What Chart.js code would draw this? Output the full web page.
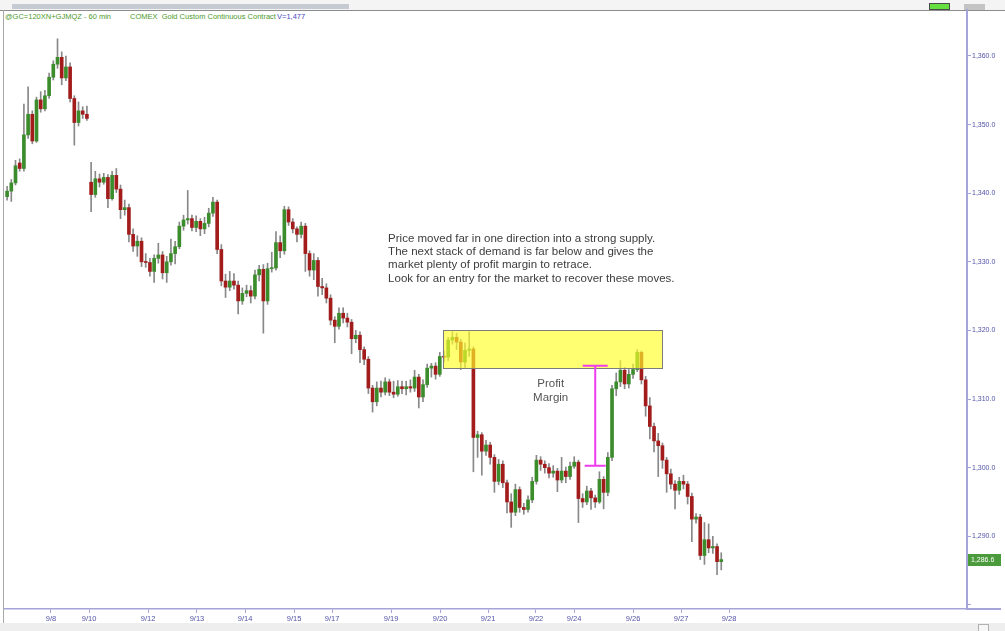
<!DOCTYPE html>
<html>
<head>
<meta charset="utf-8">
<script src="https://cdn.jsdelivr.net/npm/chart.js@4.4.1/dist/chart.umd.min.js"></script>
<style>
  body { margin: 0; background: #fff; font-family: "Liberation Sans", Arial, sans-serif; }
  #wrap { position: relative; width: 1005px; height: 631px; overflow: hidden; background: #fff; }
  .abs { position: absolute; }
  #topstrip { left: 0; top: 0; width: 1005px; height: 10px; background: #f4f4f4; border-bottom: 1px solid #8c8c8c; }
  #scroll { left: 12px; top: 4px; width: 337px; height: 5px; background: #c6cad3; }
  #greenblk { left: 929px; top: 3px; width: 19px; height: 5px; background: #66e040; border: 1px solid #4a4a4a; }
  #greyblk { left: 964px; top: 4px; width: 21px; height: 6px; background: #c4c4c4; }
  #leftline { left: 3px; top: 10px; width: 1px; height: 613px; background: #a8a8a8; }
  #botstrip { left: 0; top: 623px; width: 1005px; height: 8px; background: #eeeeee; }
  #botbox { left: 978px; top: 624px; width: 9px; height: 7px; border: 1px solid #b0b0b0; background: #f6f6f6; }
  #axisext { left: 967px; top: 608px; width: 34px; height: 2px; background: #a4a4d8; }
  .hdr { top: 13px; font-size: 7.5px; line-height: 8px; white-space: pre; }
  .g { color: #4d9a2c; }
  .b { color: #4a4ac0; }
  #chart { position: absolute; left: 0; top: 0; }
</style>
</head>
<body>
<div id="wrap">
  <div id="topstrip" class="abs"></div>
  <div id="scroll" class="abs"></div>
  <div id="greenblk" class="abs"></div>
  <div id="greyblk" class="abs"></div>
  <div id="leftline" class="abs"></div>
  <div id="botstrip" class="abs"></div>
  <div id="botbox" class="abs"></div>
  <div id="axisext" class="abs"></div>
  <div class="abs hdr g" style="left:5px">@GC=120XN+GJMQZ - 60 min</div>
  <div class="abs hdr g" style="left:130px">COMEX  Gold Custom Continuous Contract</div>
  <div class="abs hdr b" style="left:277px">V=1,477</div>
  <canvas id="chart" width="1005" height="631"></canvas>
</div>
<script>
// 2-hour candles, 9/7 - 9/28
const opens = [
  1339.5, 1340.3, 1341.5, 1344.4, 1343.6, 1348.5, 1351.5, 1347.6, 1353.6, 1352.3,
  1354.2, 1356.9, 1358.8, 1359.8, 1356.8, 1358.4, 1353.8, 1350.3, 1352.0, 1351.5,
  1341.6, 1339.8, 1342.1, 1341.6, 1342.3, 1339.2, 1342.6, 1340.6, 1337.6, 1337.9,
  1334.0, 1332.3, 1333.0, 1330.0, 1329.9, 1328.6, 1330.5, 1331.0, 1328.4, 1330.0,
  1331.2, 1332.2, 1335.2, 1336.1, 1336.3, 1335.0, 1335.9, 1334.8, 1335.6, 1337.1,
  1338.7, 1331.8, 1327.2, 1326.3, 1327.2, 1326.6, 1324.3, 1325.4, 1325.8, 1325.0,
  1328.1, 1328.9, 1324.3, 1329.0, 1329.1, 1332.8, 1331.6, 1337.6, 1335.8, 1334.8,
  1334.0, 1335.2, 1331.2, 1328.8, 1330.2, 1326.4, 1326.2, 1324.7, 1321.5, 1320.6,
  1322.5, 1321.8, 1321.2, 1318.8, 1319.3, 1317.2, 1315.8, 1311.6, 1309.6, 1311.6,
  1311.0, 1312.5, 1311.0, 1310.7, 1311.8, 1311.5, 1311.8, 1311.6, 1313.2, 1310.3,
  1312.1, 1314.5, 1314.8, 1313.6, 1316.2, 1316.1, 1318.6, 1319.0, 1318.3, 1315.4,
  1317.1, 1317.3, 1304.4, 1304.8, 1302.4, 1303.3, 1301.5, 1298.0, 1300.5, 1297.8,
  1295.0, 1293.5, 1296.8, 1294.2, 1293.9, 1295.3, 1298.0, 1301.1, 1300.5, 1300.0,
  1299.2, 1299.5, 1298.2, 1299.5, 1298.7, 1300.2, 1300.8, 1295.5, 1295.0, 1296.6,
  1295.6, 1295.0, 1298.3, 1296.4, 1301.5, 1311.5, 1312.5, 1314.2, 1312.2, 1313.6,
  1314.3, 1316.8, 1312.8, 1309.0, 1306.0, 1303.9, 1303.2, 1301.1, 1299.1, 1297.6,
  1296.7, 1298.0, 1297.6, 1295.8, 1292.5, 1292.8, 1287.2, 1289.5, 1288.3, 1288.5,
  1286.3
];
const highs = [
  1341.0, 1342.0, 1344.8, 1345.0, 1353.0, 1355.5, 1352.0, 1354.0, 1354.8, 1355.0,
  1357.5, 1359.3, 1362.5, 1360.6, 1360.0, 1359.0, 1354.2, 1353.3, 1352.6, 1352.7,
  1344.5, 1343.2, 1342.8, 1342.9, 1342.7, 1343.2, 1343.6, 1341.2, 1339.0, 1338.4,
  1334.8, 1333.8, 1333.5, 1331.2, 1330.5, 1331.0, 1332.7, 1331.5, 1330.8, 1333.3,
  1333.0, 1335.8, 1336.8, 1340.4, 1336.8, 1336.7, 1336.3, 1336.5, 1337.8, 1339.4,
  1339.0, 1332.5, 1328.2, 1328.6, 1328.3, 1327.2, 1326.2, 1326.6, 1326.5, 1328.8,
  1329.5, 1329.6, 1329.8, 1331.4, 1334.4, 1333.8, 1338.1, 1338.0, 1336.3, 1335.1,
  1335.8, 1335.6, 1331.6, 1331.2, 1330.6, 1327.6, 1326.8, 1325.2, 1322.0, 1323.3,
  1323.3, 1322.5, 1321.6, 1320.0, 1319.8, 1317.6, 1316.2, 1312.0, 1312.5, 1312.6,
  1313.1, 1312.9, 1312.6, 1312.7, 1312.6, 1312.6, 1312.8, 1314.2, 1313.6, 1312.8,
  1315.1, 1315.2, 1315.3, 1316.8, 1317.0, 1319.0, 1319.8, 1319.6, 1318.7, 1318.2,
  1319.8, 1317.6, 1305.3, 1305.1, 1304.0, 1303.7, 1301.9, 1301.2, 1301.0, 1298.2,
  1296.2, 1297.6, 1297.2, 1294.8, 1295.9, 1298.6, 1301.8, 1301.6, 1301.0, 1300.6,
  1300.3, 1299.9, 1301.5, 1300.1, 1300.8, 1301.6, 1301.1, 1296.2, 1297.3, 1297.0,
  1296.0, 1299.4, 1298.7, 1302.2, 1312.0, 1313.8, 1315.6, 1314.6, 1314.3, 1315.1,
  1317.2, 1317.0, 1313.3, 1310.2, 1306.5, 1305.0, 1303.6, 1301.5, 1299.8, 1298.1,
  1298.6, 1298.9, 1298.0, 1296.3, 1293.3, 1293.2, 1292.0, 1291.8, 1290.0, 1288.9,
  1287.6
];
const lows = [
  1339.0, 1338.8, 1341.2, 1343.2, 1343.2, 1348.0, 1347.2, 1347.4, 1351.8, 1352.0,
  1353.8, 1356.5, 1358.2, 1355.8, 1356.4, 1353.3, 1347.0, 1349.8, 1350.9, 1350.6,
  1337.3, 1339.4, 1340.9, 1341.3, 1337.9, 1339.0, 1340.1, 1336.3, 1336.8, 1332.9,
  1331.5, 1330.8, 1329.3, 1329.2, 1327.9, 1327.0, 1329.8, 1327.5, 1327.0, 1329.5,
  1329.7, 1331.9, 1334.6, 1335.5, 1334.5, 1334.4, 1333.8, 1334.1, 1335.1, 1336.6,
  1331.2, 1326.5, 1324.8, 1325.8, 1326.0, 1322.4, 1323.8, 1324.9, 1324.0, 1324.6,
  1327.2, 1319.6, 1323.8, 1328.5, 1328.8, 1330.6, 1331.1, 1335.3, 1334.2, 1332.9,
  1333.5, 1328.6, 1327.9, 1327.4, 1325.0, 1325.2, 1324.0, 1320.8, 1318.2, 1320.2,
  1321.1, 1320.5, 1316.6, 1318.2, 1315.3, 1315.0, 1310.8, 1308.1, 1309.0, 1310.3,
  1310.6, 1310.5, 1310.2, 1310.4, 1310.8, 1310.6, 1311.0, 1311.1, 1308.7, 1309.6,
  1311.7, 1313.2, 1312.9, 1313.3, 1315.4, 1315.6, 1318.0, 1317.2, 1314.3, 1314.6,
  1316.2, 1299.4, 1301.5, 1298.9, 1301.8, 1300.5, 1296.4, 1297.5, 1297.1, 1293.4,
  1291.3, 1293.0, 1293.5, 1293.2, 1293.5, 1294.9, 1297.6, 1299.6, 1299.2, 1298.5,
  1298.6, 1296.5, 1297.8, 1297.8, 1298.3, 1299.9, 1292.0, 1294.2, 1294.6, 1293.9,
  1294.2, 1294.8, 1294.0, 1295.9, 1301.0, 1310.5, 1311.8, 1311.5, 1311.6, 1313.0,
  1314.0, 1312.2, 1307.5, 1304.2, 1302.3, 1298.7, 1299.9, 1296.4, 1296.9, 1294.0,
  1296.1, 1296.9, 1294.7, 1289.2, 1291.9, 1286.6, 1285.9, 1287.6, 1287.5, 1284.4,
  1285.1
];
const closes = [
  1340.3, 1341.5, 1344.0, 1343.6, 1348.5, 1351.5, 1347.6, 1353.6, 1352.3, 1354.2,
  1356.9, 1358.8, 1359.8, 1356.8, 1358.4, 1353.8, 1350.3, 1352.0, 1351.5, 1350.9,
  1339.8, 1342.1, 1341.6, 1342.3, 1339.2, 1342.6, 1340.6, 1337.6, 1337.9, 1334.0,
  1332.3, 1333.0, 1330.0, 1329.9, 1328.6, 1330.5, 1331.0, 1328.4, 1330.0, 1331.2,
  1332.2, 1335.2, 1336.1, 1336.3, 1335.0, 1335.9, 1334.8, 1335.6, 1337.1, 1338.7,
  1331.8, 1327.2, 1326.3, 1327.2, 1326.6, 1324.3, 1325.4, 1325.8, 1325.0, 1328.1,
  1328.9, 1324.3, 1329.0, 1329.1, 1332.8, 1331.6, 1337.6, 1335.8, 1334.8, 1334.0,
  1335.2, 1331.2, 1328.8, 1330.2, 1326.4, 1326.2, 1324.7, 1321.5, 1320.6, 1322.5,
  1321.8, 1321.2, 1318.8, 1319.3, 1317.2, 1315.8, 1311.6, 1309.6, 1311.6, 1311.0,
  1312.5, 1311.0, 1310.7, 1311.8, 1311.5, 1311.8, 1311.6, 1313.2, 1310.3, 1312.1,
  1314.5, 1314.8, 1313.6, 1316.2, 1316.1, 1318.6, 1319.0, 1318.3, 1315.4, 1317.1,
  1317.3, 1304.4, 1304.8, 1302.4, 1303.3, 1301.5, 1298.0, 1300.5, 1297.8, 1295.0,
  1293.5, 1296.8, 1294.2, 1293.9, 1295.3, 1298.0, 1301.1, 1300.5, 1300.0, 1299.2,
  1299.5, 1298.2, 1299.5, 1298.7, 1300.2, 1300.8, 1295.5, 1295.0, 1296.6, 1295.6,
  1295.0, 1298.3, 1296.4, 1301.5, 1311.5, 1312.5, 1314.2, 1312.2, 1313.6, 1314.3,
  1316.8, 1312.8, 1309.0, 1306.0, 1303.9, 1303.2, 1301.1, 1299.1, 1297.6, 1296.7,
  1298.0, 1297.6, 1295.8, 1292.5, 1292.8, 1287.2, 1289.5, 1288.3, 1288.5, 1286.3,
  1286.6
];

// axis: candle slots across the whole plot width, date ticks at midnight
const slotCount = 229;
const dateLabels = ['9/8', '9/10', '9/12', '9/13', '9/14', '9/15', '9/17', '9/19',
  '9/20', '9/21', '9/22', '9/24', '9/26', '9/27', '9/28'];
const dateSlots = [10.45, 19.5, 33.55, 45.2, 56.64, 68.3, 77.36, 91.4,
  103.07, 114.5, 125.9, 134.98, 149.02, 160.45, 171.88];
const priceTicks = [1280, 1290, 1300, 1310, 1320, 1330, 1340, 1350, 1360];
const priceMin = 1279.4;
const priceMax = 1366.7;

// annotations
const zoneFrom = 103.86, zoneTo = 156.05, zoneHigh = 1320.0, zoneLow = 1314.4;
const marginSlot = 140, marginTop = 1314.86, marginBottom = 1300.28;
const marginLabel = ['Profit', 'Margin'];
const marginLabelSlot = 129.4, marginLabelPrice = 1312.2;
const noteLines = [
  'Price moved far in one direction into a strong supply.',
  'The next stack of demand is far below and gives the',
  'market plenty of profit margin to retrace.',
  'Look for an entry for the market to recover these moves.',
];
const noteSlot = 90.7, notePrice = 1333.4;

const UP = '#3b8c2b';
const DOWN = '#a21c1c';
const WICK = '#888888';
const AXIS = '#a4a4d8';
const LABEL = '#5252a8';
const FONT = '"Liberation Sans", Arial, sans-serif';

const fmtPrice = (v) => v.toLocaleString('en-US', { minimumFractionDigits: 1, maximumFractionDigits: 1 });

const bodies = closes.map((c, i) => ({ x: i, y: [opens[i], c] }));
const wicks = closes.map((c, i) => ({ x: i, y: [lows[i], highs[i]] }));
const bodyColors = closes.map((c, i) => (c >= opens[i] ? UP : DOWN));

const overlay = {
  id: 'overlay',
  afterDatasetsDraw(chart) {
    const { ctx, scales: { x, y } } = chart;
    ctx.save();

    // supply zone
    const zx0 = x.getPixelForValue(zoneFrom);
    const zx1 = x.getPixelForValue(zoneTo);
    const zy0 = y.getPixelForValue(zoneHigh);
    const zy1 = y.getPixelForValue(zoneLow);
    ctx.fillStyle = 'rgba(255, 255, 40, 0.66)';
    ctx.fillRect(zx0, zy0, zx1 - zx0, zy1 - zy0);
    ctx.strokeStyle = '#7c7c7c';
    ctx.lineWidth = 1;
    ctx.strokeRect(Math.round(zx0) + 0.5, Math.round(zy0) + 0.5, Math.round(zx1 - zx0), Math.round(zy1 - zy0));

    // profit margin bracket
    const mx = x.getPixelForValue(marginSlot);
    const my0 = y.getPixelForValue(marginTop);
    const my1 = y.getPixelForValue(marginBottom);
    ctx.strokeStyle = '#ee3cee';
    ctx.lineWidth = 2;
    ctx.beginPath();
    ctx.moveTo(mx, my0); ctx.lineTo(mx, my1);
    ctx.moveTo(mx - 12.5, my0); ctx.lineTo(mx + 12.5, my0);
    ctx.moveTo(mx - 10.5, my1); ctx.lineTo(mx + 10.5, my1);
    ctx.stroke();

    ctx.fillStyle = '#555555';
    ctx.font = '11.5px ' + FONT;
    ctx.textAlign = 'center';
    ctx.textBaseline = 'middle';
    const lx = x.getPixelForValue(marginLabelSlot);
    const ly = y.getPixelForValue(marginLabelPrice);
    marginLabel.forEach((t, i) => ctx.fillText(t, lx, ly + i * 14));

    // note
    ctx.fillStyle = '#3c3c3c';
    ctx.textAlign = 'left';
    const nx = x.getPixelForValue(noteSlot);
    const ny = y.getPixelForValue(notePrice);
    noteLines.forEach((t, i) => ctx.fillText(t, nx, ny + i * 13.4));
    ctx.restore();
  },
  afterDraw(chart) {
    const { ctx, scales: { y }, chartArea } = chart;
    const last = closes[closes.length - 1];
    const py = y.getPixelForValue(last);
    ctx.save();
    ctx.fillStyle = '#4b9a3b';
    ctx.fillRect(chartArea.right + 1, Math.round(py) - 6, 33, 12);
    ctx.fillStyle = '#ffffff';
    ctx.font = '7px ' + FONT;
    ctx.textAlign = 'left';
    ctx.textBaseline = 'middle';
    ctx.fillText(fmtPrice(last), chartArea.right + 4, Math.round(py) + 0.5);
    ctx.restore();
  },
};

new Chart(document.getElementById('chart'), { // eslint-disable-line no-new
  type: 'bar',
  data: {
    datasets: [
      {
        label: 'body',
        data: bodies,
        backgroundColor: bodyColors,
        barThickness: 3,
        minBarLength: 1,
      },
      {
        label: 'wick',
        data: wicks,
        backgroundColor: WICK,
        barThickness: 1,
      },
    ],
  },
  options: {
    responsive: false,
    animation: false,
    layout: { padding: { left: 5, top: 10, right: 0, bottom: 0 } },
    datasets: { bar: { grouped: false } },
    plugins: {
      legend: { display: false },
      tooltip: { enabled: false },
    },
    scales: {
      x: {
        type: 'linear',
        min: -0.5,
        max: slotCount - 0.5,
        offset: false,
        afterBuildTicks: (s) => { s.ticks = dateSlots.map((v) => ({ value: v })); },
        afterFit: (s) => { s.height = 22; },
        grid: { drawOnChartArea: false, offset: false, color: AXIS, tickLength: 4 },
        border: { color: AXIS, width: 1.5 },
        ticks: {
          autoSkip: false,
          maxRotation: 0,
          minRotation: 0,
          padding: 1,
          color: LABEL,
          font: { size: 7.5, family: FONT },
          callback: (v, i) => dateLabels[i],
        },
      },
      y: {
        position: 'right',
        min: priceMin,
        max: priceMax,
        afterBuildTicks: (s) => { s.ticks = priceTicks.map((v) => ({ value: v })); },
        afterFit: (s) => { s.width = 38; },
        grid: { drawOnChartArea: false, color: AXIS, tickLength: 4 },
        border: { color: AXIS, width: 2 },
        ticks: {
          padding: 1,
          color: LABEL,
          font: { size: 7, family: FONT },
          callback: (v) => (v > priceTicks[0] ? fmtPrice(v) : ''),
        },
      },
    },
  },
  plugins: [overlay],
});
</script>
</body>
</html>
